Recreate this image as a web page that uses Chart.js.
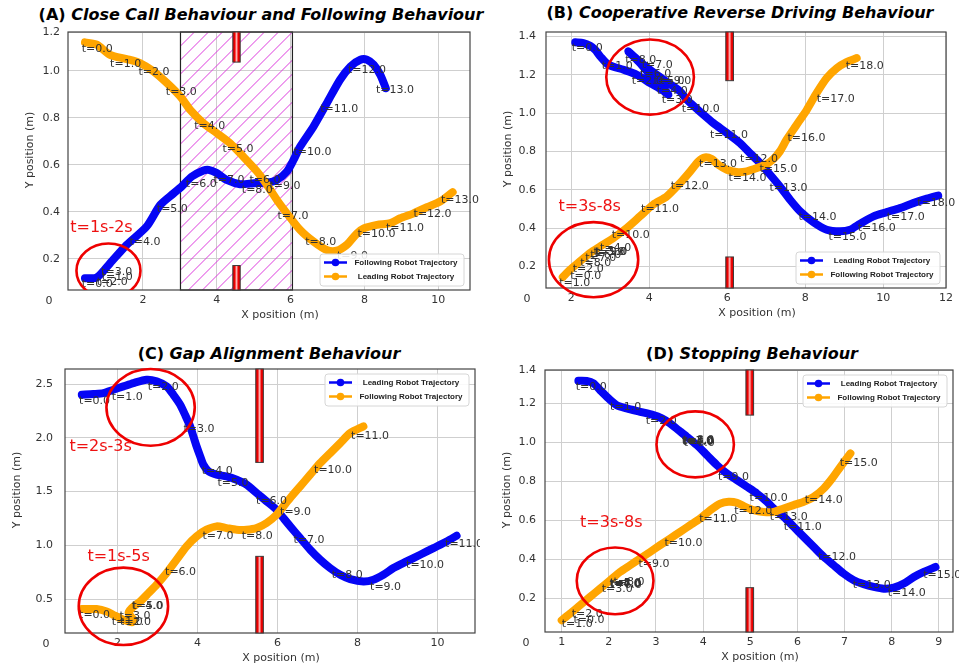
<!DOCTYPE html>
<html><head><meta charset="utf-8">
<script src="https://cdn.jsdelivr.net/npm/chart.js@4.4.1/dist/chart.umd.min.js"></script>
<style>
html,body{margin:0;padding:0;background:#fff;}
body{width:959px;height:666px;position:relative;overflow:hidden;}
.pn{position:absolute;}
.ttl{position:absolute;transform:translate(-50%,-50%);white-space:nowrap;font:bold 16px "DejaVu Sans",sans-serif;color:#000;}
.ttl i{font-style:italic;}
</style></head><body>
<div class="ttl" style="left:261px;top:14px">(A) <i>Close Call Behaviour and Following Behaviour</i></div>
<div class="ttl" style="left:740px;top:12px">(B) <i>Cooperative Reverse Driving Behaviour</i></div>
<div class="ttl" style="left:269px;top:353px">(C) <i>Gap Alignment Behaviour</i></div>
<div class="ttl" style="left:752px;top:353px">(D) <i>Stopping Behaviour</i></div>
<div class="pn" style="left:0;top:0"><canvas id="cA" width="480" height="333"></canvas></div>
<div class="pn" style="left:480px;top:0"><canvas id="cB" width="479" height="333"></canvas></div>
<div class="pn" style="left:0;top:333px"><canvas id="cC" width="480" height="333"></canvas></div>
<div class="pn" style="left:480px;top:333px"><canvas id="cD" width="479" height="333"></canvas></div>
<script>
// ---------- Panel A : Close Call / Following ----------
const aFollowX = [0.43,0.75,1.11,1.56,2.10,2.47,2.83,3.05,3.32,3.64,3.78,4.00,4.27,4.63,5.00,5.36,5.63,5.90,6.08,6.26,6.62,6.98,7.34,7.62,7.89,8.07,8.25,8.43,8.58];
const aFollowY = [0.118,0.121,0.182,0.260,0.338,0.430,0.479,0.508,0.550,0.576,0.579,0.565,0.536,0.518,0.522,0.525,0.536,0.572,0.621,0.678,0.763,0.862,0.962,1.018,1.047,1.047,1.026,0.983,0.926];
const aLeadX = [0.43,0.75,1.11,1.56,1.92,2.29,2.65,3.01,3.28,3.64,4.00,4.36,4.72,5.09,5.36,5.63,5.90,6.26,6.62,6.98,7.25,7.52,7.80,7.98,8.34,8.70,8.97,9.33,9.69,10.05,10.39];
const aLeadY = [1.121,1.111,1.068,1.050,1.033,0.997,0.948,0.891,0.834,0.777,0.735,0.692,0.635,0.572,0.515,0.451,0.394,0.323,0.274,0.238,0.235,0.260,0.309,0.330,0.345,0.352,0.373,0.394,0.420,0.444,0.484];
const aFollowTimes = [[0,0.343,0.092],[1,0.885,0.121],[2,0.75,0.102],[3,0.867,0.142],[4,1.635,0.272],[5,2.376,0.413],[6,3.162,0.518],[7,3.911,0.536],[8,4.679,0.491],[9,5.429,0.511],[10,6.08,0.654],[11,6.802,0.837],[12,7.552,1.004],[13,8.311,0.919]];
const aLeadTimes = [[0,0.343,1.094],[1,1.111,1.030],[2,1.879,0.996],[3,2.62,0.911],[4,3.388,0.763],[5,4.155,0.667],[6,4.887,0.536],[7,5.646,0.383],[8,6.396,0.270],[9,7.254,0.210],[10,7.814,0.306],[11,8.582,0.329],[12,9.332,0.389],[13,10.072,0.451]];
const aXTicks = [2,4,6,8,10];
const aYTicks = [0.2,0.4,0.6,0.8,1.0,1.2];
const aCircles = [[1.066,0.150,0.867,0.116]];
const aNotes = [['t=1s-2s',0.03,0.333]];
const aObstacles = [[4.535,0.2,1.037,9],[4.535,0.2,-9,0.172]];
const aZone = [3.017,6.05];

// ---------- Panel B : Cooperative Reverse Driving ----------
const bLeadX = [2.10,2.31,2.48,2.61,2.74,2.95,3.34,3.68,4.02,4.32,4.49,4.28,4.02,3.76,3.55,3.46,3.68,3.93,4.19,4.49,4.79,4.96,5.13,5.39,5.64,5.99,6.33,6.58,6.84,7.10,7.35,7.61,7.87,8.21,8.55,8.89,9.15,9.41,9.75,10.09,10.43,10.77,11.12,11.41];
const bLeadY = [1.369,1.365,1.351,1.330,1.296,1.252,1.226,1.200,1.157,1.122,1.096,1.148,1.200,1.261,1.304,1.322,1.282,1.240,1.200,1.157,1.113,1.070,1.038,0.991,0.948,0.896,0.843,0.791,0.739,0.678,0.617,0.548,0.487,0.430,0.391,0.383,0.391,0.423,0.461,0.483,0.504,0.530,0.553,0.569];
const bFollowX = [1.78,1.97,2.22,2.48,2.74,3.08,3.42,3.76,4.10,4.45,4.79,5.05,5.26,5.43,5.60,5.77,5.99,6.24,6.50,6.76,7.01,7.18,7.35,7.52,7.78,8.04,8.29,8.55,8.81,9.06,9.32];
const bFollowY = [0.144,0.183,0.226,0.270,0.304,0.348,0.400,0.461,0.522,0.565,0.635,0.696,0.748,0.769,0.760,0.730,0.704,0.692,0.696,0.713,0.734,0.760,0.800,0.861,0.939,1.017,1.104,1.183,1.235,1.266,1.287];
const bLeadTimes = [[0,2.012,1.339],[1,2.781,1.247],[2,3.55,1.165],[3,4.32,1.07],[4,4.191,1.113],[5,4.106,1.165],[6,3.764,1.205],[7,3.807,1.252],[8,3.38,1.278],[9,4.277,1.165],[10,4.832,1.021],[11,5.558,0.883],[12,6.328,0.757],[13,7.08,0.609],[14,7.824,0.456],[15,8.593,0.353],[16,9.345,0.398],[17,10.089,0.457],[18,10.875,0.53]];
const bFollowTimes = [[0,1.969,0.148],[1,1.687,0.113],[2,2.037,0.183],[3,2.567,0.275],[4,2.738,0.296],[5,2.61,0.275],[6,2.482,0.261],[7,2.354,0.243],[8,2.226,0.217],[9,2.636,0.275],[10,3.037,0.365],[11,3.789,0.499],[12,4.55,0.621],[13,5.277,0.734],[14,6.029,0.661],[15,6.824,0.708],[16,7.542,0.87],[17,8.294,1.075],[18,9.038,1.243]];
const bXTicks = [2,4,6,8,10,12];
const bYTicks = [0.2,0.4,0.6,0.8,1.0,1.2,1.4];
const bCircles = [[4.02,1.188,1.124,0.196],[2.57,0.235,1.145,0.196]];
const bNotes = [['t=3s-8s',1.67,0.513]];
const bObstacles = [[6.06,0.197,1.169,9],[6.06,0.197,-9,0.249]];

// ---------- Panel C : Gap Alignment ----------
const cLeadX = [1.11,1.40,1.65,1.90,2.15,2.40,2.73,2.98,3.23,3.40,3.57,3.69,3.82,3.90,3.98,4.07,4.15,4.28,4.48,4.73,4.98,5.23,5.48,5.73,5.98,6.15,6.32,6.57,6.82,7.07,7.32,7.57,7.82,8.15,8.40,8.65,8.90,9.23,9.57,9.90,10.23,10.48];
const cLeadY = [2.400,2.407,2.416,2.447,2.478,2.509,2.540,2.525,2.478,2.400,2.308,2.215,2.106,2.013,1.920,1.827,1.750,1.688,1.657,1.641,1.610,1.564,1.486,1.409,1.331,1.253,1.176,1.067,0.959,0.866,0.788,0.726,0.686,0.664,0.680,0.726,0.788,0.850,0.912,0.974,1.036,1.089];
const cFollowX = [1.11,1.48,1.73,1.94,2.15,2.36,2.40,2.28,2.36,2.57,2.78,2.98,3.23,3.48,3.73,3.98,4.23,4.48,4.73,4.98,5.23,5.48,5.73,5.98,6.15,6.32,6.57,6.82,7.07,7.32,7.57,7.82,8.15];
const cFollowY = [0.407,0.407,0.385,0.345,0.308,0.283,0.308,0.370,0.416,0.478,0.556,0.633,0.742,0.866,0.990,1.083,1.145,1.176,1.160,1.145,1.145,1.160,1.207,1.284,1.362,1.440,1.548,1.657,1.765,1.858,1.951,2.044,2.106];
const cLeadTimes = [[0,1.042,2.345],[1,1.858,2.376],[2,2.758,2.469],[3,3.65,2.081],[4,4.108,1.688],[5,4.5,1.579],[6,5.467,1.415],[7,6.4,1.046],[8,7.358,0.726],[9,8.317,0.612],[10,9.217,0.813],[11,10.192,1.012]];
const cFollowTimes = [[0,1.042,0.348],[1,1.858,0.286],[2,2.067,0.286],[3,2.05,0.345],[4,2.358,0.432],[5,2.375,0.432],[6,3.192,0.748],[7,4.125,1.083],[8,5.108,1.083],[9,6.067,1.306],[10,6.917,1.703],[11,7.842,2.019]];
const cXTicks = [2,4,6,8,10];
const cYTicks = [0.5,1.0,1.5,2.0,2.5];
const cCircles = [[2.83,2.283,1.104,0.357],[2.15,0.432,1.117,0.36]];
const cNotes = [['t=2s-3s',0.8,1.914],['t=1s-5s',1.25,0.888]];
const cObstacles = [[5.554,0.19,1.771,9],[5.554,0.19,-9,0.897]];

// ---------- Panel D : Stopping ----------
const dLeadX = [1.354,1.531,1.673,1.814,1.991,2.168,2.381,2.664,2.947,3.124,3.301,3.478,3.655,3.867,4.080,4.292,4.504,4.717,4.929,5.142,5.354,5.496,5.708,5.920,6.133,6.345,6.558,6.770,6.982,7.195,7.407,7.619,7.832,8.044,8.257,8.469,8.681,8.929];
const dLeadY = [1.316,1.315,1.303,1.268,1.226,1.191,1.174,1.157,1.140,1.123,1.097,1.063,1.029,0.986,0.935,0.884,0.841,0.807,0.773,0.738,0.696,0.662,0.619,0.568,0.516,0.465,0.414,0.371,0.328,0.294,0.274,0.260,0.251,0.256,0.277,0.311,0.337,0.362];
const dFollowX = [1.000,1.177,1.389,1.602,1.814,2.027,2.239,2.451,2.664,2.876,3.088,3.301,3.513,3.726,3.938,4.150,4.363,4.540,4.717,4.894,5.071,5.283,5.496,5.708,5.920,6.133,6.345,6.558,6.735,6.912,7.124];
const dFollowY = [0.089,0.123,0.166,0.209,0.251,0.294,0.337,0.371,0.405,0.439,0.474,0.508,0.542,0.576,0.610,0.653,0.687,0.696,0.691,0.670,0.653,0.644,0.644,0.662,0.679,0.696,0.721,0.764,0.815,0.875,0.944];
const dLeadTimes = [[0,1.297,1.285],[1,2.027,1.18],[2,2.784,1.109],[3,3.549,1.007],[4,3.563,1.003],[5,3.577,1.007],[6,3.591,0.995],[7,3.563,1.007],[8,3.577,1.01],[9,4.313,0.824],[10,4.986,0.716],[11,5.708,0.568],[12,6.437,0.412],[13,7.173,0.268],[14,7.917,0.229],[15,8.667,0.32]];
const dFollowTimes = [[0,1.248,0.089],[1,1.0,0.068],[2,1.212,0.118],[3,1.85,0.246],[4,2.012,0.274],[5,2.027,0.277],[6,2.041,0.27],[7,2.027,0.274],[8,2.097,0.285],[9,2.628,0.379],[10,3.181,0.485],[11,3.917,0.605],[12,4.66,0.65],[13,5.411,0.619],[14,6.154,0.704],[15,6.897,0.892]];
const dXTicks = [1,2,3,4,5,6,7,8,9];
const dYTicks = [0.2,0.4,0.6,0.8,1.0,1.2,1.4];
const dCircles = [[3.832,0.99,0.821,0.169],[2.133,0.291,0.814,0.171]];
const dNotes = [['t=3s-8s',1.389,0.588]];
const dObstacles = [[4.989,0.163,1.14,9],[4.989,0.163,-9,0.256]];

const BLUE = '#0505f5', ORANGE = '#ffa500';
const FONT = '"DejaVu Sans", sans-serif';

function axis(min, max, ticks, dec, isX, size, pad) {
  return {
    type: 'linear', position: isX ? 'bottom' : 'left', min, max, bounds: 'data',
    afterBuildTicks: s => { s.ticks = ticks.map(v => ({ value: Math.min(max, Math.max(min, v)) })); },
    afterFit: s => { if (isX) s.height = size; else s.width = size; },
    ticks: { autoSkip: false, maxRotation: 0, minRotation: 0, padding: pad, color: '#333',
      font: { family: 'DejaVu Sans', size: 11 }, callback: (v, i) => ticks[i].toFixed(dec) },
    grid: { color: '#cfcfcf', lineWidth: 1, drawTicks: false, tickLength: 0 },
    border: { display: false }
  };
}

function decoPlugin(P) {
  return {
    id: 'deco',
    beforeDatasetsDraw(chart) {
      const { ctx, chartArea: ca, scales: { x } } = chart;
      if (P.zone) {
        const x0 = x.getPixelForValue(P.zone[0]), x1 = x.getPixelForValue(P.zone[1]);
        const h = ca.bottom - ca.top;
        ctx.save();
        ctx.beginPath(); ctx.rect(x0, ca.top, x1 - x0, h); ctx.clip();
        ctx.strokeStyle = '#dd3ddd'; ctx.lineWidth = 1;
        for (let s = x0 - h; s < x1 + 2; s += 14) {
          ctx.beginPath(); ctx.moveTo(s, ca.bottom); ctx.lineTo(s + h, ca.top); ctx.stroke();
        }
        ctx.restore();
        ctx.save(); ctx.strokeStyle = '#222'; ctx.lineWidth = 1.2;
        ctx.strokeRect(x0, ca.top, x1 - x0, h); ctx.restore();
      }
    },
    afterDatasetsDraw(chart) {
      const { ctx, chartArea: ca, scales: { x, y } } = chart;
      const px = v => x.getPixelForValue(v), py = v => y.getPixelForValue(v);
      ctx.save();
      // plot frame
      ctx.strokeStyle = '#444'; ctx.lineWidth = 1.2;
      ctx.strokeRect(ca.left, ca.top, ca.right - ca.left, ca.bottom - ca.top);
      // obstacles
      P.obstacles.forEach(([cx, w, y0, y1]) => {
        const l = px(cx - w / 2), r = px(cx + w / 2);
        const t = Math.max(ca.top, py(y1)), b = Math.min(ca.bottom, py(y0));
        const g = ctx.createLinearGradient(l, 0, r, 0);
        g.addColorStop(0, '#d40000'); g.addColorStop(0.25, '#f00000'); g.addColorStop(0.5, '#ffb4b4');
        g.addColorStop(0.75, '#f00000'); g.addColorStop(1, '#d40000');
        ctx.fillStyle = g; ctx.fillRect(l, t, r - l, b - t);
        ctx.strokeStyle = '#3a3a3a'; ctx.lineWidth = 1; ctx.strokeRect(l, t, r - l, b - t);
      });
      // time labels
      ctx.font = '11px ' + FONT; ctx.fillStyle = '#333'; ctx.textAlign = 'left'; ctx.textBaseline = 'middle';
      P.times.forEach(list => list.forEach(([t, lx, ly]) => ctx.fillText('t=' + t.toFixed(1), px(lx), py(ly))));
      // red circles
      ctx.save();
      if (P.clipCircles) { ctx.beginPath(); ctx.rect(ca.left, ca.top, ca.right - ca.left, ca.bottom - ca.top); ctx.clip(); }
      ctx.strokeStyle = '#ee0000'; ctx.lineWidth = 2.6;
      P.circles.forEach(([cx, cy, rx, ry]) => {
        const X = px(cx), Y = py(cy);
        ctx.beginPath();
        ctx.ellipse(X, Y, Math.abs(px(cx + rx) - X), Math.abs(py(cy + ry) - Y), 0, 0, Math.PI * 2);
        ctx.stroke();
      });
      ctx.restore();
      // red notes
      ctx.font = '16px ' + FONT; ctx.fillStyle = '#ee1111'; ctx.textAlign = 'left'; ctx.textBaseline = 'middle';
      P.notes.forEach(([s, nx, ny]) => ctx.fillText(s, px(nx), py(ny)));
      // legend
      const w = 144, h = 32;
      const bx = ca.right - 6 - w;
      const by = P.legendCorner === 'br' ? ca.bottom - 4 - h : ca.top + 5;
      ctx.fillStyle = 'rgba(255,255,255,0.88)'; ctx.strokeStyle = '#d6d6d6'; ctx.lineWidth = 1;
      ctx.beginPath(); ctx.roundRect(bx, by, w, h, 3); ctx.fill(); ctx.stroke();
      P.legend.forEach(([label, color], i) => {
        const ry = by + 8.5 + i * 14;
        ctx.strokeStyle = color; ctx.lineWidth = 2.5;
        ctx.beginPath(); ctx.moveTo(bx + 4, ry); ctx.lineTo(bx + 27, ry); ctx.stroke();
        ctx.fillStyle = color; ctx.beginPath(); ctx.arc(bx + 15.5, ry, 3.8, 0, Math.PI * 2); ctx.fill();
        ctx.fillStyle = '#222'; ctx.font = 'bold 8px "Liberation Sans", Arial, sans-serif';
        ctx.textAlign = 'center'; ctx.textBaseline = 'middle';
        ctx.fillText(label, bx + 86, ry + 0.5);
      });
      // axis titles and corner zero
      ctx.fillStyle = '#333'; ctx.font = '11px ' + FONT; ctx.textAlign = 'center'; ctx.textBaseline = 'middle';
      ctx.fillText('0', ca.left - 19, ca.bottom + 11);
      ctx.fillText('X position (m)', (ca.left + ca.right) / 2 + 11, ca.bottom + 25);
      ctx.save();
      ctx.translate(ca.left - P.yTitleOff, (ca.top + ca.bottom) / 2 - 11);
      ctx.rotate(-Math.PI / 2);
      ctx.fillText('Y position (m)', 0, 0);
      ctx.restore();
      ctx.restore();
    }
  };
}

function panel(id, P) {
  const mkSet = (xs, ys, color, order) => ({
    data: xs.map((v, i) => ({ x: v, y: ys[i] })),
    borderColor: color, backgroundColor: color, borderWidth: 8, pointRadius: 0,
    showLine: true, tension: 0.25, borderCapStyle: 'round', borderJoinStyle: 'round', fill: false, order
  });
  new Chart(document.getElementById(id), {
    type: 'scatter',
    data: { datasets: [mkSet(P.blueX, P.blueY, BLUE, 2), mkSet(P.orangeX, P.orangeY, ORANGE, 1)] },
    options: {
      responsive: false, animation: false, devicePixelRatio: 1,
      layout: { padding: { top: P.top, right: P.right, left: 0, bottom: 0 } },
      plugins: { legend: { display: false }, tooltip: { enabled: false }, title: { display: false } },
      scales: {
        x: axis(P.xr[0], P.xr[1], P.xt, 0, true, P.xh, 4),
        y: axis(P.yr[0], P.yr[1], P.yt, P.yd, false, P.yw, P.ypad)
      }
    },
    plugins: [decoPlugin(P)]
  });
}

panel('cA', {
  blueX: aFollowX, blueY: aFollowY, orangeX: aLeadX, orangeY: aLeadY,
  times: [aFollowTimes, aLeadTimes], xt: aXTicks, yt: aYTicks, yd: 1,
  xr: [-0.03, 10.86], yr: [0.068, 1.165], top: 32, right: 10, xh: 43, yw: 68, ypad: 8, yTitleOff: 38,
  circles: aCircles, clipCircles: true, notes: aNotes, obstacles: aObstacles, zone: aZone,
  legend: [['Following Robot Trajectory', BLUE], ['Leading Robot Trajectory', ORANGE]], legendCorner: 'br'
});
panel('cB', {
  blueX: bLeadX, blueY: bLeadY, orangeX: bFollowX, orangeY: bFollowY,
  times: [bLeadTimes, bFollowTimes], xt: bXTicks, yt: bYTicks, yd: 1,
  xr: [1.35, 11.61], yr: [0.087, 1.423], top: 32, right: 13, xh: 45, yw: 66, ypad: 10, yTitleOff: 38,
  circles: bCircles, notes: bNotes, obstacles: bObstacles,
  legend: [['Leading Robot Trajectory', BLUE], ['Following Robot Trajectory', ORANGE]], legendCorner: 'br'
});
panel('cC', {
  blueX: cLeadX, blueY: cLeadY, orangeX: cFollowX, orangeY: cFollowY,
  times: [cLeadTimes, cFollowTimes], xt: cXTicks, yt: cYTicks, yd: 1,
  xr: [0.69, 10.94], yr: [0.184, 2.64], top: 36, right: 5, xh: 33, yw: 65, ypad: 12, yTitleOff: 48,
  circles: cCircles, notes: cNotes, obstacles: cObstacles,
  legend: [['Leading Robot Trajectory', BLUE], ['Following Robot Trajectory', ORANGE]], legendCorner: 'tr'
});
panel('cD', {
  blueX: dLeadX, blueY: dLeadY, orangeX: dFollowX, orangeY: dFollowY,
  times: [dLeadTimes, dFollowTimes], xt: dXTicks, yt: dYTicks, yd: 1,
  xr: [0.646, 9.30], yr: [0.029, 1.371], top: 37, right: 6, xh: 34, yw: 65, ypad: 9, yTitleOff: 38,
  circles: dCircles, notes: dNotes, obstacles: dObstacles,
  legend: [['Leading Robot Trajectory', BLUE], ['Following Robot Trajectory', ORANGE]], legendCorner: 'tr'
});
</script>
</body></html>
